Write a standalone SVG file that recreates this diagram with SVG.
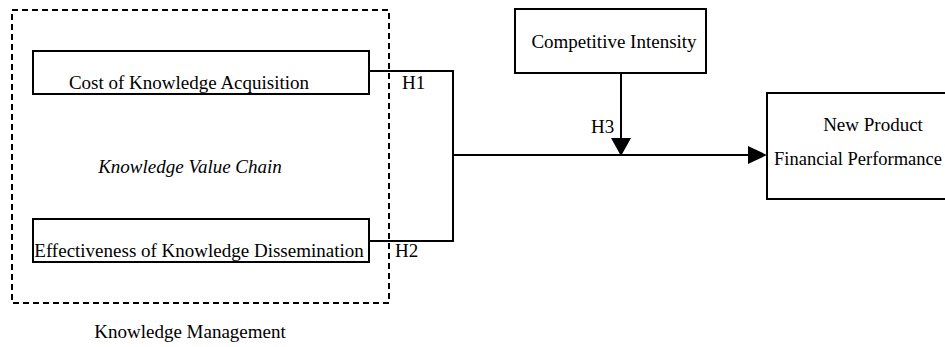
<svg xmlns="http://www.w3.org/2000/svg" width="945" height="347" viewBox="0 0 945 347">
<style>
text{font-family:"Liberation Serif","Times New Roman",Times,serif;font-size:19px;fill:#000}
.box{fill:#fff;stroke:#000;stroke-width:2}
.ln{fill:none;stroke:#000;stroke-width:2}
.it{font-style:italic}
</style>
<rect width="945" height="347" fill="#fff"/>
<g id="km">
<rect x="12" y="10" width="377" height="293" fill="none" stroke="#000" stroke-width="2" stroke-dasharray="6,4"/>
<text x="190" y="173" text-anchor="middle" class="it">Knowledge Value Chain</text>
<text x="190" y="338" text-anchor="middle">Knowledge Management</text>
</g>
<g id="connectors">
<polyline class="ln" points="369,71 453,71 453,241 369,241"/>
<line class="ln" x1="453" y1="155" x2="748" y2="155"/>
<path d="M748,146 L767,155 L748,164 Z" fill="#000"/>
<line class="ln" x1="621" y1="73" x2="621" y2="138"/>
<path d="M611,138 L621,156 L631,138 Z" fill="#000"/>
<text x="402" y="89">H1</text>
<text x="395" y="257">H2</text>
<text x="591" y="133">H3</text>
</g>
<g id="cost">
<rect class="box" x="33" y="51" width="336" height="43"/>
<text x="189" y="89" text-anchor="middle">Cost of Knowledge Acquisition</text>
</g>
<g id="eff">
<rect class="box" x="33" y="219" width="336" height="43"/>
<text x="199" y="257" text-anchor="middle">Effectiveness of Knowledge Dissemination</text>
</g>
<g id="ci">
<rect class="box" x="515" y="9" width="191" height="64"/>
<text x="614" y="48" text-anchor="middle">Competitive Intensity</text>
</g>
<g id="npfp">
<rect class="box" x="767" y="93" width="190" height="106"/>
<text x="873" y="131" text-anchor="middle">New Product</text>
<text x="774" y="165" textLength="168" lengthAdjust="spacingAndGlyphs">Financial Performance</text>
</g>
</svg>
